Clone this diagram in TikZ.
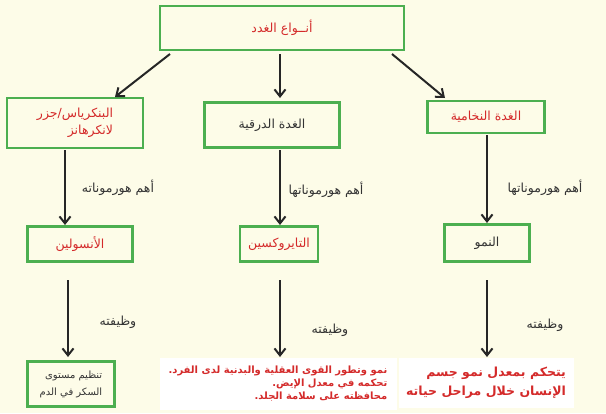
\documentclass[tikz,border=0pt]{standalone}
\usetikzlibrary{arrows.meta}
\usepackage{fontspec}
\TeXXeTstate=1
\newfontfamily\ar[Script=Arabic]{DejaVu Sans}
\newcommand{\R}[1]{\beginR #1\endR}
\definecolor{bg}{HTML}{FDFCE8}
\definecolor{gb}{HTML}{4CAF50}
\definecolor{rd}{HTML}{D42A2A}
\begin{document}
\begin{tikzpicture}[x=1pt,y=-1pt,font=\ar\fontsize{12.5}{16}\selectfont,
 box/.style={draw=gb,line width=2.4pt,fill=bg,inner sep=2pt},
 arr/.style={-{Straight Barb[length=7pt,width=11pt]},line width=2pt,black!85},
 lab/.style={text=black!80}]
\fill[bg] (0,0) rectangle (606,413);
\useasboundingbox (0,0) rectangle (606,413);
\node[box,minimum width=244pt,minimum height=44pt,text=rd] (top) at (282,28) {\R{أنــواع الغدد}};
\node[box,minimum width=136pt,minimum height=50pt,text=rd,align=right,font=\ar\fontsize{12.5}{17}\selectfont] (l1) at (75,123) {\R{البنكرياس/جزر}\\\R{لانكرهانز}};
\node[box,minimum width=135pt,minimum height=45pt,text=black!80] (m1) at (272,125) {\R{الغدة الدرقية}};
\node[box,minimum width=117pt,minimum height=32pt,text=rd] (r1) at (486,117) {\R{الغدة النخامية}};
\coordinate (t1) at (170,54);
\coordinate (t2) at (280,54);
\coordinate (t3) at (392,54);
\coordinate (e1) at (115,97);
\coordinate (e2) at (280,98);
\coordinate (e3) at (445,98);
\draw[arr] (t1) -- (e1);
\draw[arr] (t2) -- (e2);
\draw[arr] (t3) -- (e3);
\node[box,minimum width=105pt,minimum height=35pt,text=rd] (l2) at (80,244) {\R{الأنسولين}};
\node[box,minimum width=78pt,minimum height=35pt,text=rd] (m2) at (279,244) {\R{التايروكسين}};
\node[box,minimum width=85pt,minimum height=37pt,text=black!80] (r2) at (487,243) {\R{النمو}};
\draw[arr] (65,150) -- (65,225);
\draw[arr] (280,150) -- (280,225);
\draw[arr] (487,135) -- (487,223);
\node[lab] (h1) at (118,188) {\R{أهم هورموناته}};
\node[lab] (h2) at (326,190) {\R{أهم هورموناتها}};
\node[lab] (h3) at (545,188) {\R{أهم هورموناتها}};
\node[box,minimum width=87pt,minimum height=45pt,text=black!80,align=right,font=\ar\fontsize{10}{17}\selectfont] (l3) at (71,384) {\R{تنظيم مستوى}\\\R{السكر في الدم}};
\node[fill=white,minimum width=237pt,minimum height=52pt,text=rd,align=right,font=\ar\bfseries\fontsize{10}{13}\selectfont,inner sep=1pt] (m3) at (278,384) {\R{نمو وتطور القوى العقلية والبدنية لدى الفرد.}\\\R{تحكمه في معدل الإيض.}\\\R{محافظته على سلامة الجلد.}};
\node[fill=white,minimum width=175pt,minimum height=50pt,text=rd,align=right,font=\ar\bfseries\fontsize{12.5}{19}\selectfont,inner sep=1pt] (r3) at (486,383) {\R{يتحكم بمعدل نمو جسم}\\\R{الإنسان خلال مراحل حياته}};
\draw[arr] (68,280) -- (68,357);
\draw[arr] (280,280) -- (280,357);
\draw[arr] (487,280) -- (487,357);
\node[lab] (w1) at (118,322) {\R{وظيفته}};
\node[lab] (w2) at (330,330) {\R{وظيفته}};
\node[lab] (w3) at (545,325) {\R{وظيفته}};
\end{tikzpicture}
\end{document}
